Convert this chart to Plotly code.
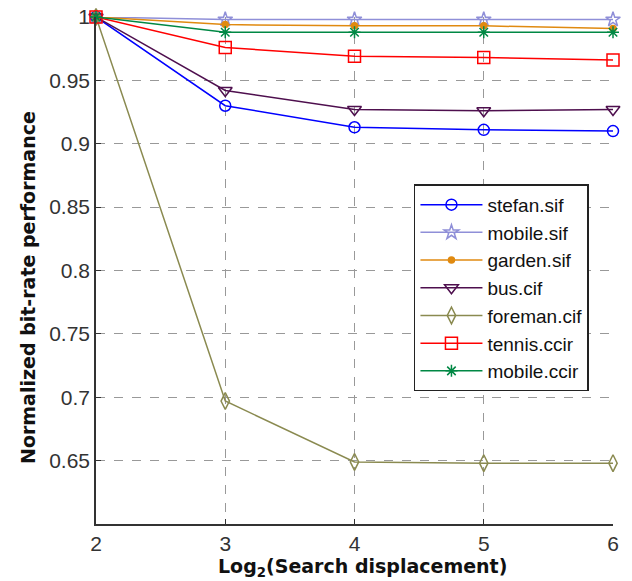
import plotly.graph_objects as go

x_vals = [2, 3, 4, 5, 6]
stefan_sif = [1.0, 0.930, 0.913, 0.911, 0.910]
mobile_sif = [1.0, 0.998, 0.998, 0.998, 0.998]
garden_sif = [1.0, 0.994, 0.993, 0.993, 0.991]
bus_cif = [1.0, 0.942, 0.927, 0.926, 0.927]
foreman_cif = [1.0, 0.697, 0.649, 0.648, 0.648]
tennis_ccir = [1.0, 0.976, 0.969, 0.968, 0.966]
mobile_ccir = [1.0, 0.988, 0.988, 0.988, 0.988]

x_title = "<b>Log<sub>2</sub>(Search displacement)</b>"
y_title = "<b>Normalized bit-rate performance</b>"

series = [
    ("stefan.sif", stefan_sif, "#0000FF", "circle-open", 11),
    ("mobile.sif", mobile_sif, "#8F8FD8", "star-open", 11),
    ("garden.sif", garden_sif, "#E08A10", "circle", 6),
    ("bus.cif", bus_cif, "#4E0F4E", "triangle-down-open", 12),
    ("foreman.cif", foreman_cif, "#8A8A50", "diamond-tall-open", 12),
    ("tennis.ccir", tennis_ccir, "#FF0000", "square-open", 12),
    ("mobile.ccir", mobile_ccir, "#008844", "asterisk-open", 10),
]

fig = go.Figure()
for name, ys, color, sym, size in series:
    fig.add_trace(go.Scatter(
        x=x_vals, y=ys, name=name, mode="lines+markers", legendgroup=name,
        line=dict(color=color, width=1.5),
        marker=dict(symbol=sym, size=size, color=color, line=dict(color=color, width=1.5)),
        cliponaxis=False,
    ))

tick_font = dict(family="Liberation Sans Narrow, Arial, sans-serif", size=21, color="#333")
title_font = dict(family="DejaVu Sans, Arial, sans-serif", size=19, color="#111")
fig.update_layout(
    width=632, height=581,
    margin=dict(l=96, r=19, t=17, b=57),
    plot_bgcolor="white", paper_bgcolor="white",
    showlegend=True,
    legend=dict(
        x=0.615, y=0.67, xanchor="left", yanchor="top",
        bordercolor="#222", borderwidth=1.5, bgcolor="white",
        font=dict(family="Arial, Liberation Sans, sans-serif", size=19, color="#111"),
        itemwidth=62, tracegroupgap=0, traceorder="grouped",
    ),
    xaxis=dict(
        range=[2, 6], tickvals=[2, 3, 4, 5, 6], ticktext=["2", "3", "4", "5", "6"],
        showline=True, linecolor="#333", linewidth=1.5,
        showgrid=True, gridcolor="#999", griddash="dash", gridwidth=1,
        ticks="inside", ticklen=5, tickcolor="#333",
        tickfont=tick_font, zeroline=False, automargin=False,
    ),
    yaxis=dict(
        range=[0.6, 1.0],
        tickvals=[0.65, 0.7, 0.75, 0.8, 0.85, 0.9, 0.95, 1.0],
        ticktext=["0.65", "0.7", "0.75", "0.8", "0.85", "0.9", "0.95", "1"],
        showline=True, linecolor="#333", linewidth=1.5,
        showgrid=True, gridcolor="#999", griddash="dash", gridwidth=1,
        ticks="inside", ticklen=5, tickcolor="#333",
        tickfont=tick_font, zeroline=False, automargin=False,
    ),
    annotations=[
        dict(text=x_title, xref="paper", yref="paper", x=(362 - 96) / 517, y=(524 - 567) / 507,
             xanchor="center", yanchor="middle", showarrow=False, font=title_font),
        dict(text=y_title, xref="paper", yref="paper", x=(28 - 96) / 517, y=(524 - 288) / 507,
             xanchor="center", yanchor="middle", showarrow=False, textangle=-90, font=title_font),
    ],
)

fig.write_html("out.html")
